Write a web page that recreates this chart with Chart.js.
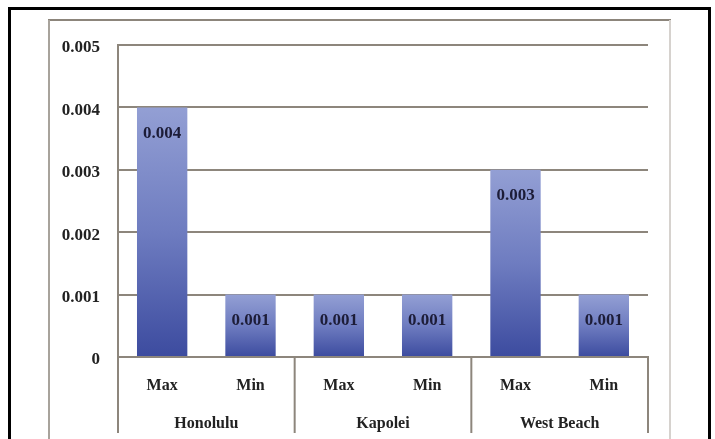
<!DOCTYPE html>
<html>
<head>
<meta charset="utf-8">
<script src="https://cdn.jsdelivr.net/npm/chart.js@4.4.0/dist/chart.umd.min.js"></script>
<style>
  body { margin: 0; background: #fff; }
  canvas { display: block; }
</style>
</head>
<body>
<canvas id="rainChart" width="715" height="439"></canvas>
<script>
// data
const subLabels = ['Max', 'Min', 'Max', 'Min', 'Max', 'Min'];
const groups = ['Honolulu', 'Kapolei', 'West Beach'];
const values = [0.004, 0.001, 0.001, 0.001, 0.003, 0.001];
const yTicks = [0, 0.001, 0.002, 0.003, 0.004, 0.005];

const lineColor = '#8d867c';
const fontFamily = '"Liberation Serif", "DejaVu Serif", serif';

// per-bar vertical gradient, darker at the base
function barGradient(context) {
    const chart = context.chart;
    const y = chart.scales.y;
    if (!chart.chartArea || !y) return '#6c7abf';
    const v = context.raw || 0;
    const top = y.getPixelForValue(v);
    const bottom = y.getPixelForValue(0);
    const g = chart.ctx.createLinearGradient(0, top, 0, bottom);
    g.addColorStop(0, '#939fd4');
    g.addColorStop(0.5, '#6e7cc0');
    g.addColorStop(1, '#3c4b9f');
    return g;
}

// frame round the chart
const framePlugin = {
    id: 'frame',
    beforeDraw(chart) {
        const ctx = chart.ctx;
        ctx.save();
        ctx.fillStyle = '#fff';
        ctx.fillRect(0, 0, chart.width, chart.height);
        // inner grey box
        ctx.lineWidth = 2;
        ctx.strokeStyle = '#8c857b';
        ctx.beginPath(); ctx.moveTo(48, 20); ctx.lineTo(671, 20); ctx.stroke();
        ctx.strokeStyle = '#a8a39c';
        ctx.beginPath(); ctx.moveTo(49, 20); ctx.lineTo(49, 439); ctx.stroke();
        ctx.strokeStyle = '#d6d2ce';
        ctx.beginPath(); ctx.moveTo(670, 20); ctx.lineTo(670, 439); ctx.stroke();
        // black outer frame
        ctx.lineWidth = 3;
        ctx.strokeStyle = '#000';
        ctx.beginPath();
        ctx.moveTo(9.5, 439); ctx.lineTo(9.5, 8.5); ctx.lineTo(709.5, 8.5); ctx.lineTo(709.5, 439);
        ctx.stroke();
        ctx.restore();
    }
};

// value labels inside the bars, group labels and separators under the axis
const labelsPlugin = {
    id: 'labels',
    afterDatasetsDraw(chart) {
        const ctx = chart.ctx;
        const meta = chart.getDatasetMeta(0);
        ctx.save();
        ctx.font = 'bold 17px ' + fontFamily;
        ctx.fillStyle = '#1d1d38';
        ctx.textAlign = 'center';
        ctx.textBaseline = 'middle';
        meta.data.forEach((bar, i) => {
            ctx.fillText(values[i].toFixed(3), bar.x, bar.y + 26);
        });
        ctx.restore();
    },
    afterDraw(chart) {
        const ctx = chart.ctx;
        const x = chart.scales.x;
        const area = chart.chartArea;
        const step = x.getPixelForValue(1) - x.getPixelForValue(0);
        ctx.save();
        ctx.strokeStyle = lineColor;
        ctx.lineWidth = 2;
        for (let g = 0; g <= groups.length; g++) {
            const px = g < groups.length ? x.getPixelForValue(g * 2) - step / 2 : area.right;
            ctx.beginPath();
            ctx.moveTo(px, area.bottom);
            ctx.lineTo(px, 433);
            ctx.stroke();
        }
        ctx.font = 'bold 16px ' + fontFamily;
        ctx.fillStyle = '#222';
        ctx.textAlign = 'center';
        ctx.textBaseline = 'middle';
        groups.forEach((name, g) => {
            const cx = (x.getPixelForValue(g * 2) + x.getPixelForValue(g * 2 + 1)) / 2;
            ctx.fillText(name, cx, 424);
        });
        ctx.restore();
    }
};

const ctx = document.getElementById('rainChart').getContext('2d');

const rainChart = new Chart(ctx, {
    type: 'bar',
    data: {
        labels: subLabels,
        datasets: [{
            data: values,
            backgroundColor: barGradient,
            borderWidth: 0,
            categoryPercentage: 1,
            barPercentage: 0.57
        }]
    },
    options: {
        responsive: false,
        animation: false,
        layout: { padding: { left: 48, top: 45, right: 67, bottom: 0 } },
        plugins: {
            legend: { display: false },
            tooltip: { enabled: false }
        },
        scales: {
            x: {
                grid: { display: false, drawTicks: false },
                border: { display: true, color: lineColor, width: 2 },
                ticks: {
                    padding: 19,
                    color: '#222',
                    font: { family: fontFamily, size: 16, weight: 'bold' }
                },
                afterFit(scale) { scale.height = 82; }
            },
            y: {
                min: 0,
                max: 0.005,
                afterBuildTicks(scale) {
                    scale.ticks = yTicks.map(v => ({ value: v }));
                },
                grid: { color: lineColor, lineWidth: 2, drawTicks: false },
                border: { display: true, color: lineColor, width: 2 },
                ticks: {
                    padding: 18,
                    labelOffset: 3,
                    color: '#222',
                    font: { family: fontFamily, size: 17, weight: 'bold' },
                    callback: v => v === 0 ? '0' : v.toFixed(3)
                },
                afterFit(scale) { scale.width = 70; }
            }
        }
    },
    plugins: [framePlugin, labelsPlugin]
});
</script>
</body>
</html>
